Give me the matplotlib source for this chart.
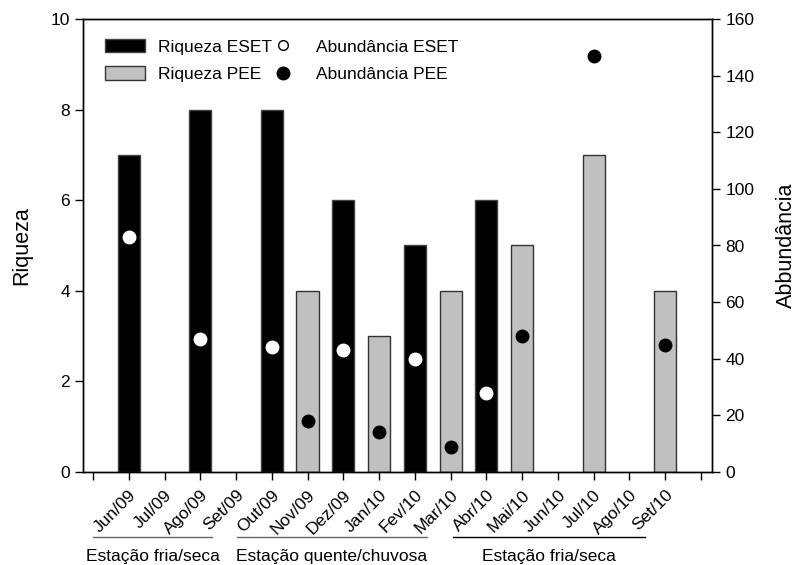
import numpy as np
import matplotlib
matplotlib.use("Agg")
import matplotlib.pyplot as plt
from matplotlib.patches import Patch
from matplotlib.lines import Line2D
import matplotlib.transforms as mtransforms

plt.rcParams['font.family'] = ['Liberation Sans', 'DejaVu Sans']

# Months sampled (positions 1..16 on the axis)
meses = ['Jun/09', 'Jul/09', 'Ago/09', 'Set/09', 'Out/09', 'Nov/09', 'Dez/09', 'Jan/10',
         'Fev/10', 'Mar/10', 'Abr/10', 'Mai/10', 'Jun/10', 'Jul/10', 'Ago/10', 'Set/10']

# Richness per month (None = no sample)
riqueza_eset = [7, None, 8, None, 8, None, 6, None, 5, None, 6, None, None, None, None, None]
riqueza_pee = [None, None, None, None, None, 4, None, 3, None, 4, None, 5, None, 7, None, 4]

# Abundance per month
abund_eset = [83, None, 47, None, 44, None, 43, None, 40, None, 28, None, None, None, None, None]
abund_pee = [None, None, None, None, None, 18, None, 14, None, 9, None, 48, None, 147, None, 45]

# Seasons: (label, start, end) in axis units
estacoes = [('Estação fria/seca', 0.0, 3.33, '#666666'),
            ('Estação quente/chuvosa', 4.03, 9.34, '#666666'),
            ('Estação fria/seca', 10.07, 15.44, 'black')]

x = np.arange(1, len(meses) + 1)

fig = plt.figure(figsize=(7.98, 5.65), dpi=100)
ax = fig.add_axes([83 / 798, 1 - 472 / 565, 629 / 798, 453 / 565])
ax2 = ax.twinx()

def sel(vals):
    idx = [i for i, v in enumerate(vals) if v is not None]
    return x[idx], [vals[i] for i in idx]

bx, by = sel(riqueza_eset)
ax.bar(bx, by, width=0.62, color='black', edgecolor='#444444', linewidth=1, zorder=2)
bx, by = sel(riqueza_pee)
ax.bar(bx, by, width=0.62, color='#c0c0c0', edgecolor='#333333', linewidth=1, zorder=2)

px, py = sel(abund_eset)
ax2.plot(px, py, 'o', ms=9, mfc='white', mec='white', ls='none', zorder=3)
px, py = sel(abund_pee)
ax2.plot(px, py, 'o', ms=9, mfc='black', mec='black', ls='none', zorder=3)

ax.set_xlim(-0.28, 17.31)
ax.set_ylim(0, 10)
ax2.set_ylim(0, 160)

ax.set_xticks(np.arange(0, 18))
ax.set_xticklabels([''] + meses + [''], rotation=45, ha='right',
                   rotation_mode='anchor', fontsize=12.5)
ax.set_yticks(np.arange(0, 11, 2))
ax2.set_yticks(np.arange(0, 161, 20))
ax.tick_params(axis='x', direction='out', length=6, width=1, pad=5)
ax.tick_params(axis='y', direction='out', length=6, width=1, labelsize=12.5)
ax2.tick_params(axis='y', direction='out', length=6, width=1, labelsize=12.5)

ax.set_ylabel('Riqueza', fontsize=15.5, labelpad=13)
ax2.set_ylabel('Abbundância', fontsize=15.5, labelpad=16)

for a in (ax, ax2):
    for s in a.spines.values():
        s.set_linewidth(1)

# Legends: bars on the left, circles on the right
h1 = [Patch(facecolor='black', edgecolor='#444444'),
      Patch(facecolor='#c0c0c0', edgecolor='#333333')]
leg1 = ax.legend(h1, ['Riqueza ESET', 'Riqueza PEE'], loc='upper left',
                 bbox_to_anchor=(0.035, 0.956), frameon=False, fontsize=12.5,
                 borderpad=0, borderaxespad=0, handlelength=2.3, handleheight=0.8,
                 handletextpad=0.75, labelspacing=0.67)
ax.add_artist(leg1)
h2 = [Line2D([], [], marker='o', ls='none', ms=7, mfc='white', mec='black'),
      Line2D([], [], marker='o', ls='none', ms=9, mfc='black', mec='black')]
ax.legend(h2, ['Abundância ESET', 'Abundância PEE'], loc='upper left',
          bbox_to_anchor=(0.286, 0.956), frameon=False, fontsize=12.5,
          borderpad=0, borderaxespad=0, handlelength=2.3, handleheight=0.8,
          handletextpad=0.75, labelspacing=0.67)

# Season bars below the month labels
trans = mtransforms.blended_transform_factory(ax.transData, fig.transFigure)
for nome, x0, x1, cor in estacoes:
    ax.plot([x0, x1], [1 - 537 / 565, 1 - 537 / 565], color=cor, lw=1,
            transform=trans, clip_on=False)
    fig.text((x0 + x1) / 2, 1 - 556 / 565, nome, transform=trans,
             ha='center', va='center', fontsize=12.5)

fig.savefig('out.png', dpi=100)
